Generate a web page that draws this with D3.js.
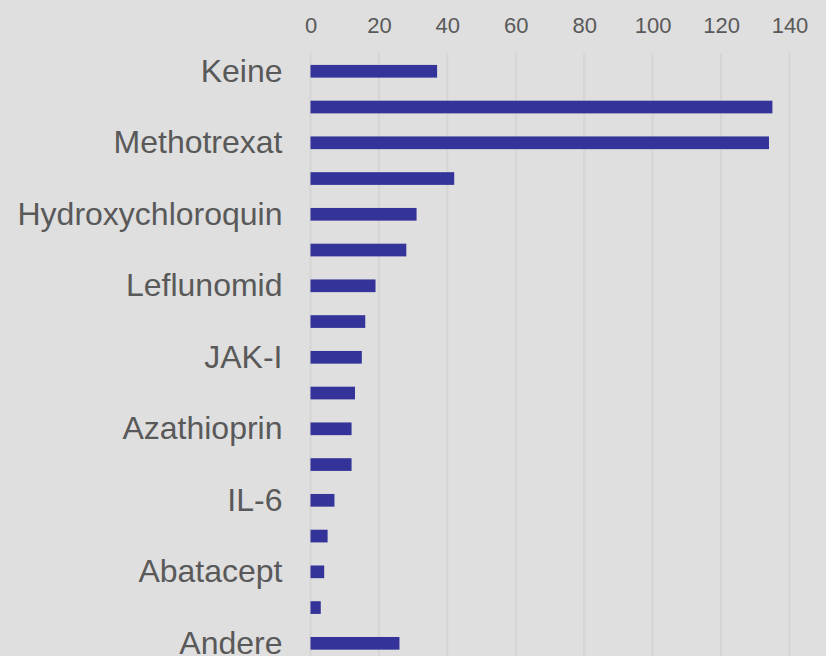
<!DOCTYPE html>
<html>
<head>
<meta charset="utf-8">
<script src="https://cdn.jsdelivr.net/npm/d3@7"></script>
<style>
  html, body { margin: 0; padding: 0; background: #dfdfdf; }
  svg { display: block; }
</style>
</head>
<body>
<svg id="svg1" width="826" height="656"></svg>
<script>
'use strict';

// categories top to bottom; only every other label is printed on the axis
let categories = ["Keine", "k2", "Methotrexat", "k4", "Hydroxychloroquin", "k6",
    "Leflunomid", "k8", "JAK-I", "k10", "Azathioprin", "k12", "IL-6", "k14",
    "Abatacept", "k16", "Andere"];
let counts = [37, 135, 134, 42, 31, 28, 19, 16, 15, 13, 12, 12, 7, 5, 4, 3, 26];
let xTicks = [0, 20, 40, 60, 80, 100, 120, 140];

let svg = d3.select("#svg1");

let marginLeft = 310.5;
let xMax = 140;
let x = d3.scaleLinear().domain([0, xMax]).range([marginLeft, 789.5]);
let y = d3.scaleBand()
    .domain(categories)
    .range([53.4, 661.2])
    .paddingInner(0.645)
    .paddingOuter(0.3225);

// vertical gridlines
svg.append("g")
    .selectAll("line")
    .data(xTicks)
    .enter().append("line")
    .attr("x1", d => x(d))
    .attr("x2", d => x(d))
    .attr("y1", 53)
    .attr("y2", 656)
    .style("stroke", "#d5d5d5")
    .style("stroke-width", 2);

// top axis with tick labels only
let xAxis = svg.append("g")
    .attr("transform", "translate(0,33)")
    .call(d3.axisTop(x).tickValues(xTicks).tickSize(0).tickPadding(0));
xAxis.select(".domain").remove();
xAxis.selectAll("text")
    .style("font-family", "'Liberation Sans', Arial, sans-serif")
    .style("font-size", "22px")
    .style("fill", "#595959");

// left axis, every second category label
let yAxis = svg.append("g")
    .attr("transform", `translate(${marginLeft},0)`)
    .call(d3.axisLeft(y).tickSize(0).tickPadding(28)
        .tickFormat((d, i) => i % 2 === 0 ? d : ""));
yAxis.select(".domain").remove();
yAxis.selectAll("text")
    .style("font-family", "'Liberation Sans', Arial, sans-serif")
    .style("font-size", "32px")
    .style("fill", "#595959");

// bars
svg.append("g")
    .selectAll("rect")
    .data(counts)
    .enter().append("rect")
    .attr("x", x(0))
    .attr("y", (d, i) => y(categories[i]))
    .attr("width", d => x(d) - x(0))
    .attr("height", y.bandwidth())
    .style("fill", "#333399");
</script>
</body>
</html>
